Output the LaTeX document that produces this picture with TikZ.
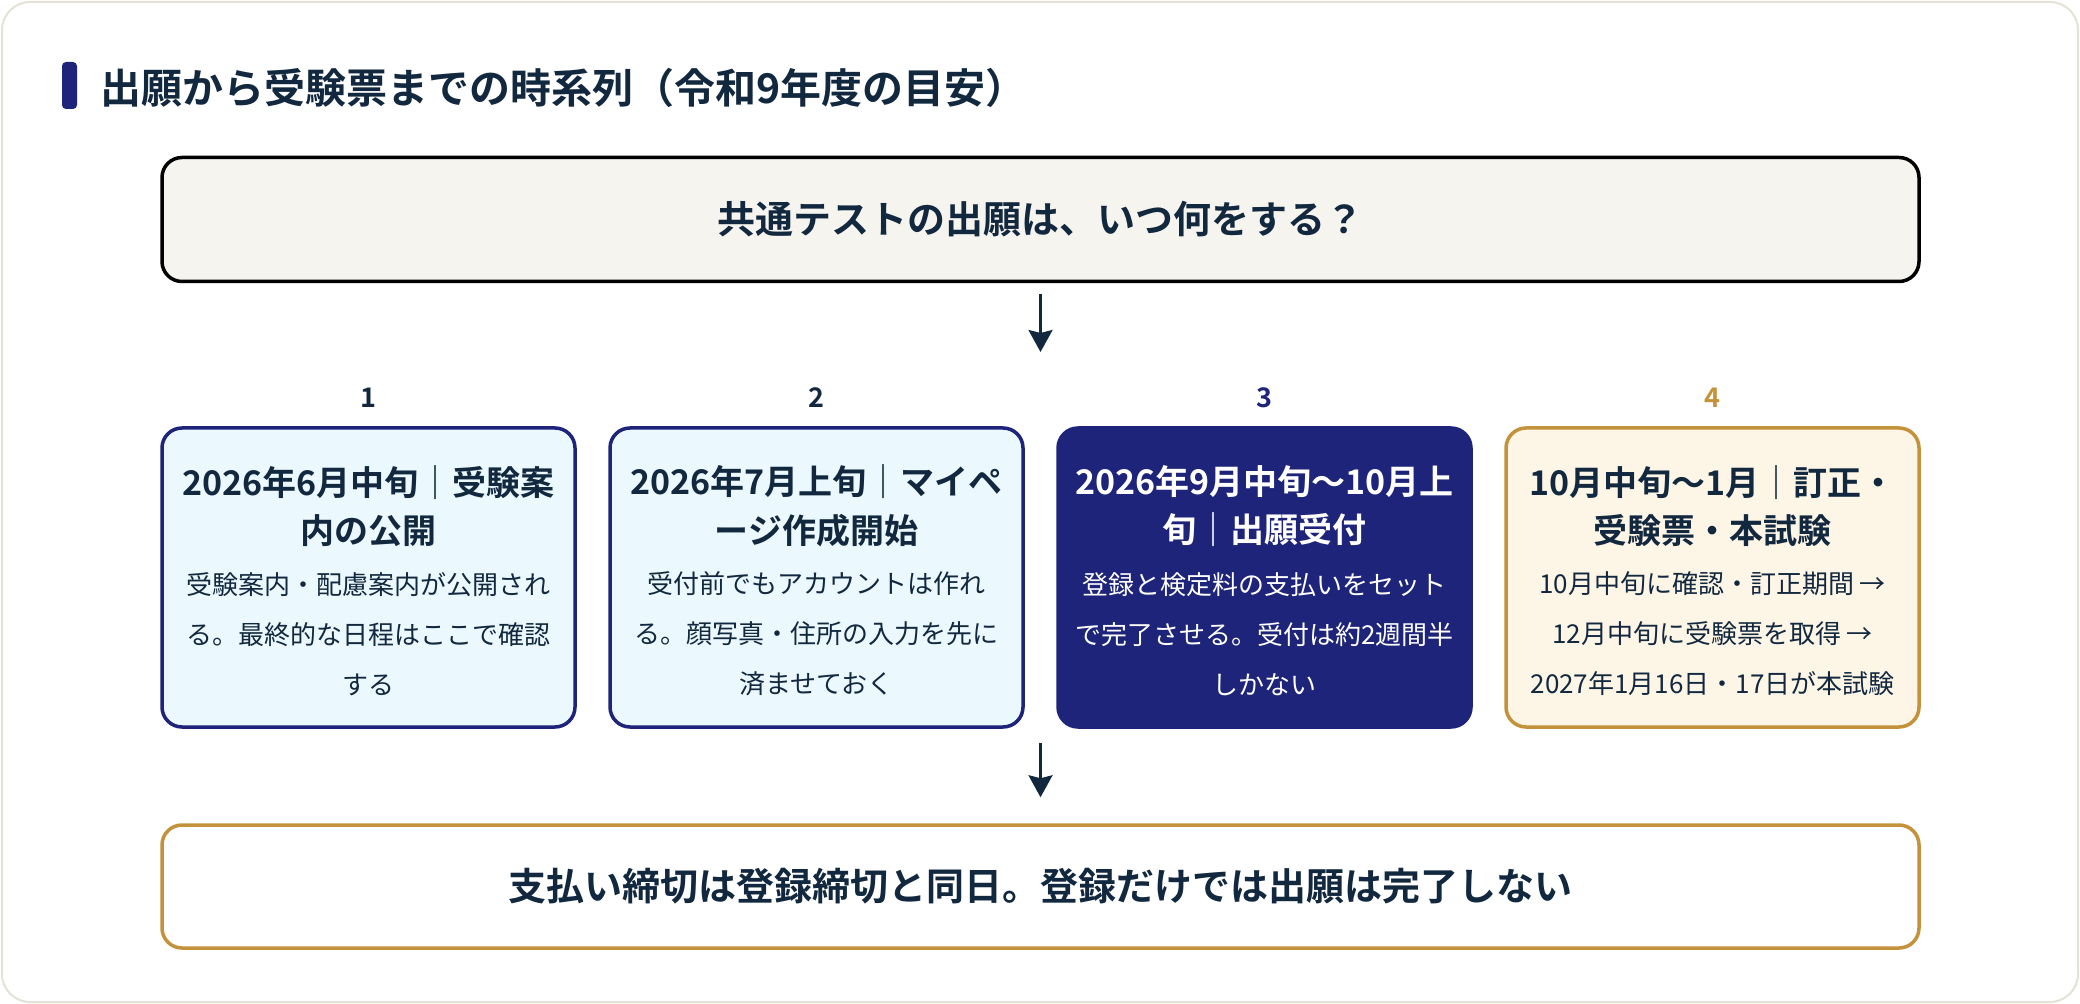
\documentclass[tikz,border=0pt]{standalone}
\usepackage{fontspec}
\setmainfont{Noto Sans CJK JP}[BoldFont={Noto Sans CJK JP Bold}]
\usetikzlibrary{arrows.meta}
\definecolor{ink}{HTML}{12283F}
\definecolor{navy}{HTML}{1D2479}
\definecolor{gold}{HTML}{C4923A}
\definecolor{skyfill}{HTML}{EBF8FD}
\definecolor{creamfill}{HTML}{FDF6E7}
\definecolor{askfill}{HTML}{F6F4EF}
\definecolor{cardline}{HTML}{E4E2D6}

\begin{document}
\begin{tikzpicture}[x=0.5pt,y=-0.5pt,
	wide/.style={draw, line width=1.75pt, rounded corners=10pt, minimum width=878.5pt, minimum height=62pt, inner sep=0pt, text=ink, font=\fontsize{19pt}{23pt}\selectfont\bfseries},
	stepbox/.style={draw, line width=1.75pt, rounded corners=10pt, minimum width=206.5pt, minimum height=149.5pt, inner sep=0pt},
	head/.style={align=center, inner sep=0pt, font=\fontsize{17pt}{24.25pt}\selectfont\bfseries},
	body/.style={align=center, inner sep=0pt, font=\fontsize{13pt}{25pt}\selectfont},
	num/.style={inner sep=0pt, font=\fontsize{13.5pt}{16pt}\selectfont\bfseries},
	flow/.style={draw=ink, line width=1.25pt, -{Stealth[length=11pt,width=12pt,inset=1.5pt,fill=ink]}}]

	%Card
	\useasboundingbox (0,0) rectangle (2080,1004);
	\draw[cardline, line width=1pt, fill=white, rounded corners=14pt] (2,2) rectangle (2078,1002);

	%Title
	\fill[navy, rounded corners=2pt] (62,62) rectangle (77,109);
	\node[anchor=west, inner sep=0pt, text=ink, font=\fontsize{20.5pt}{24pt}\selectfont\bfseries] (title) at (100,88) {出願から受験票までの時系列（令和9年度の目安）};

	%Question
	\node[wide, fill=askfill] (ask) at (1040.5,219.5) {共通テストの出願は、いつ何をする？};
	\coordinate (a1) at (1040.5,352);
	\draw[flow, shorten <=5.5pt] (ask) -- (a1);

	%Steps
	\node[stepbox, draw=navy, fill=skyfill] (s1) at (368.5,577.5) {};
	\node[stepbox, draw=navy, fill=skyfill] (s2) at (816.5,577.5) {};
	\node[stepbox, draw=navy, fill=navy] (s3) at (1264.5,577.5) {};
	\node[stepbox, draw=gold, fill=creamfill] (s4) at (1712.5,577.5) {};

	\node[num, text=ink] (n1) at (368.5,398) {1};
	\node[num, text=ink] (n2) at (816.5,398) {2};
	\node[num, text=navy] (n3) at (1264.5,398) {3};
	\node[num, text=gold] (n4) at (1712.5,398) {4};

	\node[head, text=ink] (h1) at (368.5,506) {2026年6月中旬｜受験案\\内の公開};
	\node[head, text=ink] (h2) at (816.5,506) {2026年7月上旬｜マイペ\\ージ作成開始};
	\node[head, text=white] (h3) at (1264.5,506) {2026年9月中旬〜10月上\\旬｜出願受付};
	\node[head, text=ink] (h4) at (1712.5,506) {10月中旬〜1月｜訂正・\\受験票・本試験};

	\node[body, text=ink] (b1) at (368.5,634) {受験案内・配慮案内が公開され\\る。最終的な日程はここで確認\\する};
	\node[body, text=ink] (b2) at (816.5,634) {受付前でもアカウントは作れ\\る。顔写真・住所の入力を先に\\済ませておく};
	\node[body, text=white] (b3) at (1264.5,634) {登録と検定料の支払いをセット\\で完了させる。受付は約2週間半\\しかない};
	\node[body, text=ink] (b4) at (1712.5,634) {10月中旬に確認・訂正期間 →\\12月中旬に受験票を取得 →\\2027年1月16日・17日が本試験};

	%Summary
	\coordinate (a2) at (1040.5,743);
	\node[wide, draw=gold, fill=white, minimum height=61.5pt] (sum) at (1040.5,886.5) {支払い締切は登録締切と同日。登録だけでは出願は完了しない};
	\draw[flow, shorten >=13pt] (a2) -- (sum);

\end{tikzpicture}
\end{document}
